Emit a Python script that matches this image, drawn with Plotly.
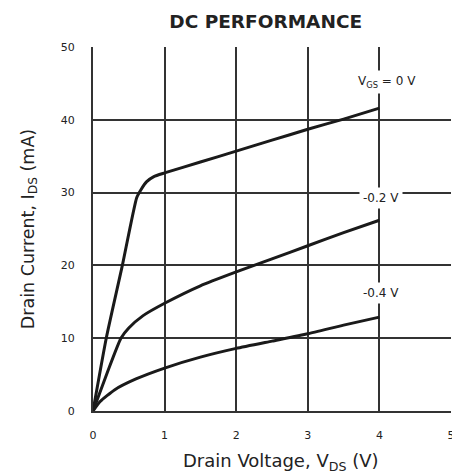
import plotly.graph_objects as go

vds_0 = [0, 0.185, 0.41, 0.61, 0.67, 0.75, 0.85, 1.0, 1.5, 2.0, 2.5, 3.0, 3.5, 4.0]
ids_0 = [0, 10.0, 20.0, 29.3, 30.4, 31.5, 32.2, 32.7, 34.2, 35.7, 37.2, 38.7, 40.1, 41.6]

vds_02 = [0, 0.2, 0.39, 0.5, 0.7, 1.0, 1.5, 2.0, 2.5, 3.0, 3.5, 4.0]
ids_02 = [0, 5.3, 10.0, 11.4, 13.1, 14.8, 17.2, 19.1, 20.9, 22.7, 24.5, 26.2]

vds_04 = [0, 0.1, 0.3, 0.6, 1.0, 1.5, 2.0, 2.5, 3.0, 3.5, 4.0]
ids_04 = [0, 1.3, 2.9, 4.4, 5.9, 7.4, 8.6, 9.6, 10.6, 11.8, 12.9]

curve_labels = ["V<sub>GS</sub> = 0 V", "-0.2 V", "-0.4 V"]
label_x = [4.1, 4.02, 4.02]
label_y = [45.2, 29.3, 16.2]

x_ticks = [0, 1, 2, 3, 4, 5]
y_ticks = [0, 10, 20, 30, 40, 50]

FONT = "DejaVu Sans, Liberation Sans, Arial"

fig = go.Figure()
for xs, ys in [(vds_0, ids_0), (vds_02, ids_02), (vds_04, ids_04)]:
    fig.add_trace(go.Scatter(x=xs, y=ys, mode="lines",
                             line=dict(color="#1a1a1a", width=3, shape="spline", smoothing=0.5),
                             showlegend=False, hoverinfo="skip"))

for txt, xv, yv in zip(curve_labels, label_x, label_y):
    fig.add_annotation(x=xv, y=yv, text=txt, showarrow=False, xref="x", yref="y",
                       font=dict(family=FONT, size=12, color="#222"),
                       bgcolor="white", borderpad=3)

fig.add_annotation(text="Drain Voltage, V<sub>DS</sub> (V)", xref="paper", yref="paper",
                   x=0.525, y=-0.14, xanchor="center", yanchor="middle", showarrow=False,
                   font=dict(family=FONT, size=18, color="#222"))

fig.update_layout(
    width=455, height=474,
    margin=dict(l=93, r=0, t=47, b=63),
    paper_bgcolor="white", plot_bgcolor="white",
    title=dict(text="<b>DC PERFORMANCE</b>", x=0.584, xanchor="center", y=0.968, yanchor="top",
               font=dict(family=FONT, size=18.5, color="#222")),
    font=dict(family=FONT, color="#222"),
    xaxis=dict(range=[0, 5], tickvals=x_ticks, ticktext=[str(v) for v in x_ticks],
               showgrid=True, gridcolor="#333", gridwidth=2,
               showline=True, linecolor="#333", linewidth=2, mirror=False,
               zeroline=False, ticks="", tickfont=dict(size=11), ticklabelstandoff=13,
               ticklabeloverflow="allow"),
    yaxis=dict(range=[0, 50], tickvals=y_ticks, ticktext=[str(v) for v in y_ticks],
               showgrid=True, gridcolor="#333", gridwidth=2,
               showline=True, linecolor="#333", linewidth=2,
               zeroline=False, ticks="", tickfont=dict(size=11), ticklabelstandoff=14,
               title=dict(text="Drain Current, I<sub>DS</sub> (mA)", font=dict(size=17.5), standoff=22)),
)
fig.write_html("out.html", config={"displayModeBar": False},
               post_script="document.body.style.margin='0';document.body.style.overflow='hidden';")
